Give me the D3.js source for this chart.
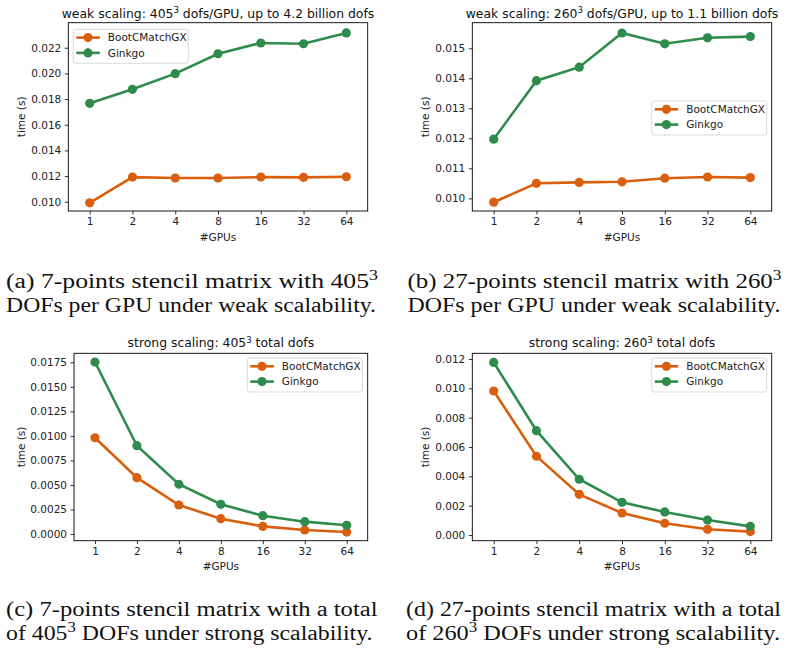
<!DOCTYPE html>
<html>
<head>
<meta charset="utf-8">
<script src="https://cdn.jsdelivr.net/npm/d3@7"></script>
<style>
	body { margin: 0; background: #fff; }
	svg { display: block; }
	.tick text { font-family: "DejaVu Sans", sans-serif; }
</style>
</head>
<body>
<div id="chart-area"></div>
<script>
// number of GPUs (x categories)
const gpus = ["1", "2", "4", "8", "16", "32", "64"]

// weak scaling, 405^3 dofs per GPU
const weak405Boot = [0.00992, 0.01192, 0.01185, 0.01185, 0.01192, 0.01190, 0.01195]
const weak405Ginkgo = [0.01767, 0.01876, 0.01998, 0.02153, 0.02237, 0.02231, 0.02315]
// weak scaling, 260^3 dofs per GPU
const weak260Boot = [0.00987, 0.01050, 0.01053, 0.01055, 0.01067, 0.01071, 0.01069]
const weak260Ginkgo = [0.01197, 0.01392, 0.01437, 0.01551, 0.01515, 0.01535, 0.01539]
// strong scaling, 405^3 total dofs
const strong405Boot = [0.00981, 0.00574, 0.00296, 0.00156, 0.00078, 0.00041, 0.00020]
const strong405Ginkgo = [0.01753, 0.00900, 0.00507, 0.00303, 0.00187, 0.00126, 0.00089]
// strong scaling, 260^3 total dofs
const strong260Boot = [0.00982, 0.00537, 0.00277, 0.00150, 0.00080, 0.00039, 0.00023]
const strong260Ginkgo = [0.01177, 0.00711, 0.00380, 0.00223, 0.00157, 0.00102, 0.00059]

// y tick labels and axis limits
const weak405Ticks = [0.010, 0.012, 0.014, 0.016, 0.018, 0.020, 0.022]
const weak260Ticks = [0.010, 0.011, 0.012, 0.013, 0.014, 0.015]
const strong405Ticks = [0, 0.0025, 0.0050, 0.0075, 0.0100, 0.0125, 0.0150, 0.0175]
const strong260Ticks = [0, 0.002, 0.004, 0.006, 0.008, 0.010, 0.012]
const weak405Lim = [0.00928, 0.02395]
const weak260Lim = [0.009577, 0.015853]
const strong405Lim = [-0.00068, 0.018417]
const strong260Lim = [-0.000389, 0.012389]

const seriesNames = ["BootCMatchGX", "Ginkgo"]
const COLORS = ["#d95f0e", "#2e8b4b"]

const WIDTH = 789
const HEIGHT = 653
const SANS = "DejaVu Sans, sans-serif"
const SERIF = "Liberation Serif, serif"

const svg = d3.select("#chart-area").append("svg")
	.attr("width", WIDTH)
	.attr("height", HEIGHT)

const panels = [
	{ box: { L: 68.3, R: 367.7, T: 22.7, B: 211 }, title: ["weak scaling: 405", "3", " dofs/GPU, up to 4.2 billion dofs"],
		ticks: weak405Ticks, lim: weak405Lim, fmt: ".3f", series: [weak405Boot, weak405Ginkgo],
		legend: [73.3, 29.3], yLabelX: 21.7, titleGap: 4.6 },
	{ box: { L: 472.3, R: 771.7, T: 22.7, B: 211 }, title: ["weak scaling: 260", "3", " dofs/GPU, up to 1.1 billion dofs"],
		ticks: weak260Ticks, lim: weak260Lim, fmt: ".3f", series: [weak260Boot, weak260Ginkgo],
		legend: [651.7, 101], yLabelX: 425, titleGap: 4.6 },
	{ box: { L: 74, R: 367.7, T: 353.3, B: 540.7 }, title: ["strong scaling: 405", "3", " total dofs"],
		ticks: strong405Ticks, lim: strong405Lim, fmt: ".4f", series: [strong405Boot, strong405Ginkgo],
		legend: [247.3, 358], yLabelX: 21.7, titleGap: 6 },
	{ box: { L: 472.3, R: 771.7, T: 353.3, B: 540.7 }, title: ["strong scaling: 260", "3", " total dofs"],
		ticks: strong260Ticks, lim: strong260Lim, fmt: ".3f", series: [strong260Boot, strong260Ginkgo],
		legend: [651.7, 358], yLabelX: 425, titleGap: 6 }
]

panels.forEach(p => drawPanel(p))

function drawPanel(p) {
	const b = p.box
	const g = svg.append("g")

	const x = d3.scalePoint().domain(gpus).range([b.L, b.R]).padding(0.5)
	const y = d3.scaleLinear().domain(p.lim).range([b.B, b.T])

	// axes
	const xAxis = g.append("g")
		.attr("transform", `translate(0, ${b.B})`)
		.call(d3.axisBottom(x).tickSize(3.5).tickPadding(3.5))
	const yAxis = g.append("g")
		.attr("transform", `translate(${b.L}, 0)`)
		.call(d3.axisLeft(y).tickValues(p.ticks).tickFormat(d3.format(p.fmt)).tickSize(3.5).tickPadding(3.5))
	;[xAxis, yAxis].forEach(a => {
		a.select(".domain").remove()
		a.selectAll(".tick line").attr("stroke", "#000").attr("stroke-width", 0.8)
		a.selectAll(".tick text").attr("fill", "#222").style("font-size", "10.5px")
	})

	// frame
	g.append("rect")
		.attr("x", b.L).attr("y", b.T)
		.attr("width", b.R - b.L).attr("height", b.B - b.T)
		.attr("fill", "none").attr("stroke", "#000").attr("stroke-width", 0.9)

	// axis labels
	g.append("text")
		.attr("x", (b.L + b.R) / 2).attr("y", b.B + 29.5)
		.attr("text-anchor", "middle")
		.style("font-family", SANS).style("font-size", "10.5px").attr("fill", "#222")
		.text("#GPUs")
	g.append("text")
		.attr("transform", `translate(${p.yLabelX}, ${(b.T + b.B) / 2}) rotate(-90)`)
		.attr("dy", "0.35em")
		.attr("text-anchor", "middle")
		.style("font-family", SANS).style("font-size", "10.5px").attr("fill", "#222")
		.text("time (s)")

	// title
	const t = g.append("text")
		.attr("x", (b.L + b.R) / 2).attr("y", b.T - p.titleGap)
		.attr("text-anchor", "middle")
		.style("font-family", SANS).style("font-size", "12.4px").attr("fill", "#111")
	t.append("tspan").text(p.title[0])
	t.append("tspan").attr("dy", -4.8).style("font-size", "8.6px").text(p.title[1])
	t.append("tspan").attr("dy", 4.8).text(p.title[2])

	// lines
	const line = d3.line()
		.x((d, i) => x(gpus[i]))
		.y(d => y(d))

	p.series.forEach((vals, k) => {
		g.append("path")
			.attr("fill", "none")
			.attr("stroke", COLORS[k])
			.attr("stroke-width", 2.6)
			.attr("d", line(vals))
		g.selectAll(null)
			.data(vals)
			.enter().append("circle")
			.attr("cx", (d, i) => x(gpus[i]))
			.attr("cy", d => y(d))
			.attr("r", 4.6)
			.attr("fill", COLORS[k])
	})

	// legend
	const lg = g.append("g").attr("transform", `translate(${p.legend[0]}, ${p.legend[1]})`)
	lg.append("rect")
		.attr("width", 115).attr("height", 34).attr("rx", 2.5)
		.attr("fill", "#fff").attr("fill-opacity", 0.8)
		.attr("stroke", "#d0d0d0").attr("stroke-width", 0.8)
	seriesNames.forEach((name, k) => {
		const ry = 8.3 + k * 15.3
		lg.append("line")
			.attr("x1", 3).attr("x2", 26.5).attr("y1", ry).attr("y2", ry)
			.attr("stroke", COLORS[k]).attr("stroke-width", 2.6)
		lg.append("circle")
			.attr("cx", 14.7).attr("cy", ry).attr("r", 4.6)
			.attr("fill", COLORS[k])
		lg.append("text")
			.attr("x", 34.5).attr("y", ry).attr("dy", "0.36em")
			.style("font-family", SANS).style("font-size", "10.5px").attr("fill", "#222")
			.text(name)
	})
}

// sub-figure captions (LaTeX style, justified first line)
const captions = [
	{ x: 6, y: 288, w: [372, 370], lines: [["(a) 7-points stencil matrix with 405", "3", ""], ["DOFs per GPU under weak scalability.", "", ""]] },
	{ x: 407.5, y: 288, w: [374, 373], lines: [["(b) 27-points stencil matrix with 260", "3", ""], ["DOFs per GPU under weak scalability.", "", ""]] },
	{ x: 6, y: 616, w: [371.5, 366.5], lines: [["(c) 7-points stencil matrix with a total", "", ""], ["of 405", "3", " DOFs under strong scalability."]] },
	{ x: 406, y: 616, w: [375, 374], lines: [["(d) 27-points stencil matrix with a total", "", ""], ["of 260", "3", " DOFs under strong scalability."]] }
]

captions.forEach(c => {
	c.lines.forEach((parts, i) => {
		const txt = svg.append("text")
			.attr("x", c.x).attr("y", c.y + i * 24)
			.attr("textLength", c.w[i]).attr("lengthAdjust", "spacingAndGlyphs")
			.style("font-family", SERIF).style("font-size", "20px").attr("fill", "#111")
		txt.append("tspan").text(parts[0])
		if (parts[1]) {
			txt.append("tspan").attr("dy", -8).style("font-size", "14px").text(parts[1])
			if (parts[2]) txt.append("tspan").attr("dy", 8).text(parts[2])
		}
	})
})
</script>
</body>
</html>
